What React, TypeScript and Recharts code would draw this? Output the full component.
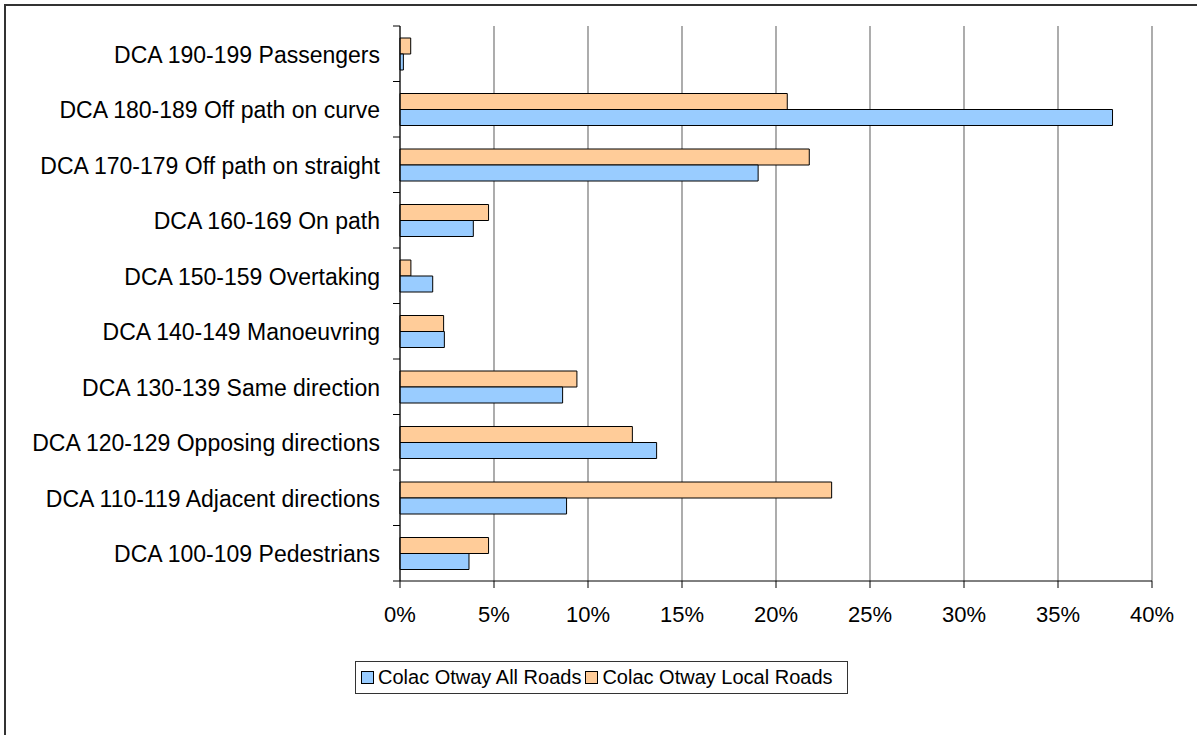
import { Bar, BarChart, CartesianGrid, XAxis, YAxis } from "recharts";

// categories, top to bottom as drawn
const categories = [
  "DCA 190-199 Passengers",
  "DCA 180-189 Off path on curve",
  "DCA 170-179 Off path on straight",
  "DCA 160-169 On path",
  "DCA 150-159 Overtaking",
  "DCA 140-149 Manoeuvring",
  "DCA 130-139 Same direction",
  "DCA 120-129 Opposing directions",
  "DCA 110-119 Adjacent directions",
  "DCA 100-109 Pedestrians",
];

// percent of crashes
const allRoads = [0.18, 37.9, 19.05, 3.9, 1.74, 2.36, 8.65, 13.65, 8.86, 3.67];
const localRoads = [0.57, 20.6, 21.77, 4.71, 0.58, 2.32, 9.41, 12.36, 22.96, 4.71];

const xTicks = [0, 5, 10, 15, 20, 25, 30, 35, 40];

const series = [
  { key: "all", name: "Colac Otway All Roads", color: "#99ccff" },
  { key: "local", name: "Colac Otway Local Roads", color: "#ffcc99" },
];

const data = categories.map((name, i) => ({
  name,
  all: allRoads[i],
  local: localRoads[i],
}));

const WIDTH = 1197;
const HEIGHT = 735;
const PLOT_TOP = 26;
const PLOT_BOTTOM = 581;
const BAND = (PLOT_BOTTOM - PLOT_TOP) / categories.length;
const font = "'Liberation Sans', Arial, sans-serif";

const CategoryTick = (props: any) => {
  const { x, y, payload, index } = props;
  const half = BAND / 2;
  return (
    <g>
      <text x={x - 20} y={y} dy="0.4em" textAnchor="end" fontSize={23} fill="#000" fontFamily={font}>
        {payload.value}
      </text>
      <line x1={x - 7} x2={x} y1={y - half} y2={y - half} stroke="#000" />
      {index === categories.length - 1 && <line x1={x - 7} x2={x} y1={y + half} y2={y + half} stroke="#000" />}
    </g>
  );
};

export default function App() {
  return (
    <div
      style={{
        position: "fixed",
        left: 0,
        top: 0,
        width: WIDTH,
        height: HEIGHT,
        overflow: "hidden",
        background: "#fff",
        fontFamily: font,
      }}
    >
      <div
        style={{
          position: "absolute",
          left: 4,
          top: 4,
          width: WIDTH + 20,
          height: HEIGHT + 20,
          border: "2px solid #333",
        }}
      />
      <BarChart
        width={WIDTH}
        height={HEIGHT}
        data={data}
        layout="vertical"
        barSize={16}
        barGap={0}
        margin={{ top: PLOT_TOP, right: 45, left: 0, bottom: HEIGHT - PLOT_BOTTOM - 50 }}
        style={{ position: "absolute", left: 0, top: 0 }}
      >
        <CartesianGrid horizontal={false} stroke="#808080" strokeWidth={1.3} />
        <XAxis
          type="number"
          domain={[0, 40]}
          ticks={xTicks}
          tickFormatter={(v) => `${v}%`}
          height={50}
          tickSize={7}
          tickMargin={18}
          stroke="#000"
          tick={{ fill: "#000", fontSize: 22, fontFamily: font }}
          interval={0}
        />
        <XAxis
          xAxisId="top"
          orientation="top"
          type="number"
          domain={[0, 40]}
          height={0}
          tick={false}
          tickLine={false}
          stroke="#808080"
          strokeWidth={1.3}
        />
        <YAxis
          type="category"
          dataKey="name"
          width={400}
          tickSize={0}
          tickMargin={0}
          tickLine={false}
          stroke="#000"
          tick={<CategoryTick />}
          interval={0}
        />
        <Bar dataKey="local" name="Colac Otway Local Roads" fill="#ffcc99" stroke="#000" strokeWidth={1} isAnimationActive={false} />
        <Bar dataKey="all" name="Colac Otway All Roads" fill="#99ccff" stroke="#000" strokeWidth={1} isAnimationActive={false} />
      </BarChart>
      <div
        style={{
          position: "absolute",
          left: 355,
          top: 661,
          width: 493,
          height: 33,
          boxSizing: "border-box",
          border: "1px solid #333",
          display: "flex",
          alignItems: "center",
          paddingLeft: 5,
          fontSize: 20,
          color: "#000",
          whiteSpace: "nowrap",
        }}
      >
        {series.map((s) => (
          <span key={s.key} style={{ display: "flex", alignItems: "center", marginRight: 4 }}>
            <span
              style={{
                display: "inline-block",
                width: 11,
                height: 11,
                background: s.color,
                border: "1px solid #000",
                marginRight: 4,
              }}
            />
            {s.name}
          </span>
        ))}
      </div>
    </div>
  );
}
